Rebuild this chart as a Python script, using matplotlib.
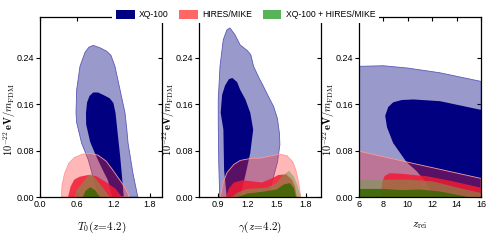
import numpy as np
import matplotlib
matplotlib.use('Agg')
import matplotlib.pyplot as plt
import matplotlib.lines as mlines
from matplotlib.patches import Patch

plt.rcParams['mathtext.fontset'] = 'cm'
plt.rcParams['font.family'] = ['Liberation Sans Narrow', 'Liberation Sans', 'DejaVu Sans']

# ---- contour boundaries: (x, 10^-22 eV / m_FDM) ----
# panel 1: T0(z=4.2)
t0_xq_68 = [(1.18, 0.0), (1.11, 0.029), (1.01, 0.05), (0.92, 0.07), (0.82, 0.095), (0.755, 0.125),
            (0.752, 0.145), (0.77, 0.163), (0.81, 0.174), (0.87, 0.180), (0.95, 0.180), (1.05, 0.175),
            (1.14, 0.170), (1.20, 0.162), (1.235, 0.145), (1.26, 0.120), (1.31, 0.071), (1.35, 0.025),
            (1.37, 0.0)]
t0_xq_95 = [(0.97, 0.0), (0.88, 0.030), (0.79, 0.064), (0.68, 0.093), (0.60, 0.128), (0.589, 0.145),
            (0.60, 0.185), (0.654, 0.225), (0.736, 0.249), (0.80, 0.258), (0.871, 0.261), (0.98, 0.257),
            (1.09, 0.251), (1.16, 0.244), (1.226, 0.225), (1.308, 0.185), (1.39, 0.145), (1.42, 0.116),
            (1.44, 0.093), (1.52, 0.041), (1.60, 0.0)]
t0_hm_95 = [(0.35, 0.0), (0.36, 0.02), (0.40, 0.040), (0.47, 0.058), (0.56, 0.068), (0.70, 0.074),
            (0.82, 0.075), (0.95, 0.072), (1.08, 0.062), (1.18, 0.048), (1.28, 0.033), (1.38, 0.018),
            (1.44, 0.006), (1.455, 0.0)]
t0_hm_68 = [(0.46, 0.0), (0.50, 0.018), (0.56, 0.030), (0.65, 0.035), (0.79, 0.038), (0.92, 0.036),
            (1.03, 0.029), (1.23, 0.015), (1.34, 0.0)]
t0_all_95 = [(0.57, 0.0), (0.60, 0.012), (0.70, 0.025), (0.78, 0.036), (0.83, 0.040), (0.88, 0.036),
             (0.98, 0.022), (1.08, 0.009), (1.14, 0.0)]
t0_all_68 = [(0.70, 0.0), (0.74, 0.010), (0.82, 0.017), (0.90, 0.012), (0.98, 0.0)]

# panel 2: gamma(z=4.2)
g_xq_95 = [(0.915, 0.0), (0.905, 0.06), (0.90, 0.128), (0.90, 0.168), (0.918, 0.225), (0.952, 0.271),
           (0.99, 0.288), (1.02, 0.291), (1.07, 0.28), (1.125, 0.262), (1.2, 0.252), (1.235, 0.245),
           (1.264, 0.225), (1.32, 0.205), (1.367, 0.19), (1.42, 0.172), (1.47, 0.156), (1.51, 0.135),
           (1.53, 0.11), (1.535, 0.09), (1.51, 0.06), (1.47, 0.035), (1.43, 0.012), (1.40, 0.0)]
g_xq_68 = [(0.987, 0.0), (0.96, 0.047), (0.953, 0.116), (0.925, 0.145), (0.94, 0.176), (0.97, 0.192),
           (1.01, 0.203), (1.045, 0.205), (1.094, 0.198), (1.125, 0.185), (1.18, 0.168), (1.23, 0.145),
           (1.26, 0.116), (1.23, 0.076), (1.18, 0.038), (1.125, 0.0)]
g_hm_95 = [(0.92, 0.0), (0.95, 0.025), (0.99, 0.042), (1.06, 0.056), (1.125, 0.063), (1.25, 0.067),
           (1.33, 0.067), (1.45, 0.071), (1.53, 0.074), (1.61, 0.071), (1.67, 0.06), (1.70, 0.046),
           (1.73, 0.024), (1.75, 0.0)]
g_hm_68 = [(0.98, 0.0), (1.01, 0.015), (1.06, 0.025), (1.15, 0.029), (1.25, 0.027), (1.35, 0.025),
           (1.45, 0.032), (1.52, 0.038), (1.60, 0.039), (1.66, 0.03), (1.69, 0.018), (1.71, 0.0)]
g_all_95 = [(1.04, 0.0), (1.10, 0.008), (1.20, 0.014), (1.30, 0.015), (1.40, 0.016), (1.50, 0.024),
            (1.57, 0.038), (1.63, 0.045), (1.68, 0.035), (1.72, 0.018), (1.75, 0.0)]
g_all_68 = [(1.10, 0.0), (1.20, 0.006), (1.35, 0.009), (1.50, 0.013), (1.58, 0.022), (1.64, 0.024),
            (1.68, 0.015), (1.70, 0.0)]

# panel 3: z_rei
z_xq_95 = [(6, 0.0), (6, 0.225), (8, 0.226), (10, 0.222), (12.6, 0.214), (16, 0.199), (16, 0.0)]
z_xq_68 = [(8.15, 0.14), (8.4, 0.155), (8.8, 0.163), (9.5, 0.167), (10.45, 0.168), (12.64, 0.165),
           (16, 0.150), (16, 0.0), (12.0, 0.0), (11.8, 0.015), (11.3, 0.03), (10.7, 0.045),
           (9.9, 0.06), (8.8, 0.093), (8.3, 0.12)]
z_hm_95 = [(6, 0.0), (6, 0.079), (10, 0.06), (16, 0.032), (16, 0.0)]
z_hm_68 = [(7.8, 0.0), (7.9, 0.025), (8.1, 0.036), (8.5, 0.041), (9.5, 0.040), (11.5, 0.036),
           (13.5, 0.028), (16, 0.016), (16, 0.0)]
z_all_95 = [(6, 0.0), (6, 0.029), (7.5, 0.029), (8.5, 0.030), (10, 0.030), (12, 0.027), (13, 0.022),
            (14.5, 0.014), (16, 0.007), (16, 0.0)]
z_all_68 = [(6, 0.0), (6, 0.014), (8, 0.014), (9.5, 0.012), (11, 0.013), (12.5, 0.010), (13.5, 0.006),
            (14.5, 0.002), (15, 0.0)]

panels = [
    (t0_xq_95, t0_xq_68, t0_hm_95, t0_hm_68, t0_all_95, t0_all_68),
    (g_xq_95, g_xq_68, g_hm_95, g_hm_68, g_all_95, g_all_68),
    (z_xq_95, z_xq_68, z_hm_95, z_hm_68, z_all_95, z_all_68),
]
xlabels = [r'$T_0(z\!=\!4.2)$', r'$\gamma(z\!=\!4.2)$', r'$z_{\rm rei}$']
xlims = [(0.0, 2.0), (0.7, 1.96), (6, 16)]
xticks = [[0.0, 0.6, 1.2, 1.8], [0.9, 1.2, 1.5, 1.8], [6, 8, 10, 12, 14, 16]]
xticklabels = [['0.0', '0.6', '1.2', '1.8'], ['0.9', '1.2', '1.5', '1.8'],
               ['6', '8', '10', '12', '14', '16']]
yticks = [0.0, 0.08, 0.16, 0.24]
ylabel = r'$\mathbf{10^{-22}\,eV}/m_{\mathrm{FDM}}$'

navy = (0.0, 0.0, 0.5)
red = (1.0, 0.2, 0.2)
green = (0.45, 0.62, 0.3)
dgreen = (0.22, 0.4, 0.0)


def fill(ax, pts, color, alpha, edge=None):
    xs = [p[0] for p in pts]
    ys = [p[1] for p in pts]
    ax.fill(xs, ys, facecolor=color, alpha=alpha, edgecolor='none', zorder=2)
    if edge is not None:
        ax.plot(xs + [xs[0]], ys + [ys[0]], color=edge, lw=0.6, zorder=2)


def main():
    fig = plt.figure(figsize=(4.91, 2.46), dpi=100)
    lefts = [0.0815, 0.405, 0.731]
    width = 0.249
    for i, (x95, x68, h95, h68, a95, a68) in enumerate(panels):
        ax = fig.add_axes([lefts[i], 0.199, width, 0.732])
        fill(ax, x95, navy, 0.4, edge=(0.35, 0.35, 0.72))
        fill(ax, x68, navy, 1.0)
        fill(ax, h95, red, 0.35, edge=(1.0, 0.6, 0.6))
        fill(ax, h68, (0.95, 0.1, 0.2), 0.85)
        fill(ax, a95, green, 0.55)
        fill(ax, a68, dgreen, 0.85)

        ax.set_xlim(*xlims[i])
        ax.set_ylim(0, 0.31)
        ax.set_xticks(xticks[i])
        ax.set_xticklabels(xticklabels[i])
        ax.set_yticks(yticks)
        ax.set_yticklabels(['0.00', '0.08', '0.16', '0.24'])
        ax.tick_params(axis='x', direction='in', top=True, length=3, width=0.8,
                       labelsize=6.5, pad=2)
        ax.tick_params(axis='y', direction='out', right=True, length=3, width=0.8,
                       labelsize=6.5, pad=1)
        for t in ax.yaxis.get_major_ticks():
            t.tick2line.set_marker(mlines.TICKLEFT)
        for sp in ax.spines.values():
            sp.set_linewidth(0.9)
        ax.set_xlabel(xlabels[i], fontsize=8, labelpad=8)
        ax.set_ylabel(ylabel, fontsize=7.6)
        ax.yaxis.set_label_coords(-0.18, 0.43)

    handles = [Patch(facecolor=navy, edgecolor='none', label='XQ-100'),
               Patch(facecolor=(1.0, 0.4, 0.4), edgecolor='none', label='HIRES/MIKE'),
               Patch(facecolor=(0.35, 0.7, 0.35), edgecolor='none', label='XQ-100 + HIRES/MIKE')]
    leg = fig.legend(handles=handles, loc='center', bbox_to_anchor=(0.5, 0.94), ncol=3,
                     fontsize=6.2, frameon=True, fancybox=False, borderpad=0.4,
                     handlelength=2.2, handleheight=1.2, columnspacing=1.2, handletextpad=0.5,
                     borderaxespad=0.0)
    leg.get_frame().set_edgecolor('none')
    leg.get_frame().set_facecolor('white')
    leg.get_frame().set_alpha(1.0)
    leg.set_zorder(10)

    fig.savefig('out.png', dpi=100)


if __name__ == '__main__':
    main()
